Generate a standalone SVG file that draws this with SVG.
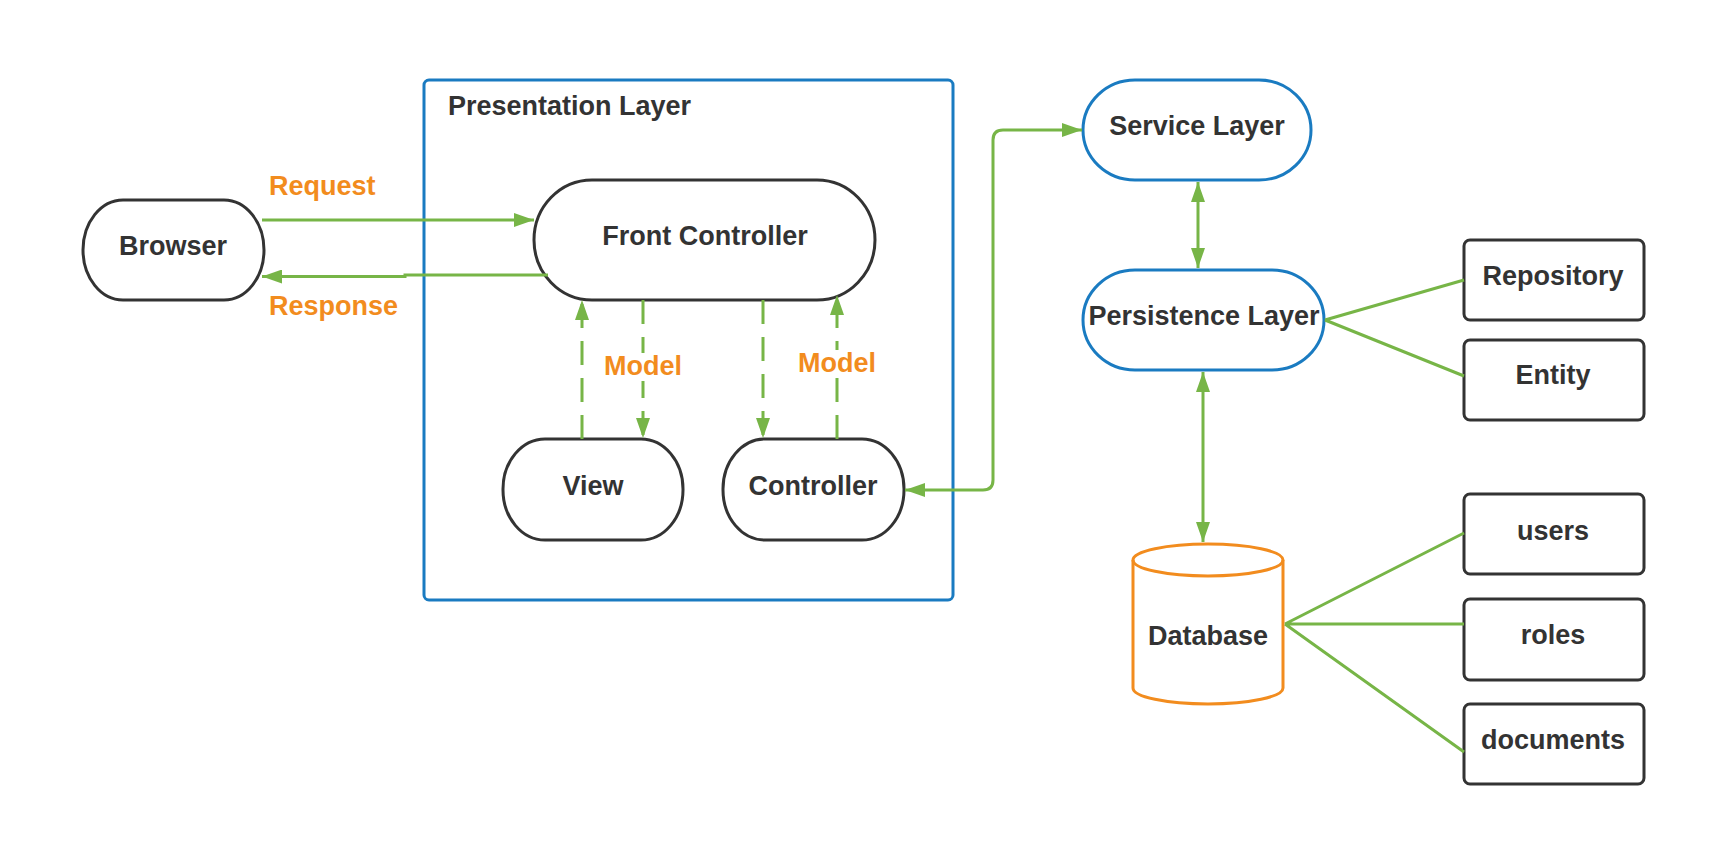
<svg xmlns="http://www.w3.org/2000/svg" width="1714" height="868" viewBox="0 0 1714 868">
<style>
.t{font-family:"Liberation Sans",Arial,sans-serif;font-weight:bold;font-size:27px;fill:#333333;text-anchor:middle}
.lbl{font-family:"Liberation Sans",Arial,sans-serif;font-weight:bold;font-size:27px;fill:#f28c1e}
.nd{fill:#ffffff;stroke:#333333;stroke-width:3}
.bl{fill:#ffffff;stroke:#1a7bc1;stroke-width:3}
.cn{fill:none;stroke:#77b547;stroke-width:3}
.dash{stroke-dasharray:24 13}
</style>
<defs>
<marker id="ah" viewBox="0 0 20 14" refX="20" refY="7" markerWidth="20" markerHeight="14" orient="auto-start-reverse" markerUnits="userSpaceOnUse">
<path d="M0,0 L20,7 L0,14 z" fill="#77b547"/>
</marker>
</defs>
<rect width="1714" height="868" fill="#ffffff"/>

<g id="presentation-layer">
<rect x="424" y="80" width="529" height="520" rx="5" ry="5" fill="#ffffff" stroke="#1a7bc1" stroke-width="3"/>
<text x="448" y="115" class="t" style="text-anchor:start">Presentation Layer</text>
</g>

<g id="browser">
<rect x="83" y="200" width="181" height="100" rx="40" ry="50" class="nd"/>
<text x="173" y="255" class="t">Browser</text>
</g>

<g id="front-controller">
<rect x="534" y="180" width="341" height="120" rx="58" ry="60" class="nd"/>
<text x="705" y="245" class="t">Front Controller</text>
</g>

<g id="view">
<rect x="503" y="439" width="180" height="101" rx="42" ry="50" class="nd"/>
<text x="593" y="495" class="t">View</text>
</g>

<g id="controller">
<rect x="723" y="439" width="181" height="101" rx="42" ry="50" class="nd"/>
<text x="813" y="495" class="t">Controller</text>
</g>

<g id="service-layer">
<rect x="1083" y="80" width="228" height="100" rx="52" ry="50" class="bl"/>
<text x="1197" y="135" class="t">Service Layer</text>
</g>

<g id="persistence-layer">
<rect x="1083" y="270" width="241" height="100" rx="52" ry="50" class="bl"/>
<text x="1204" y="325" class="t">Persistence Layer</text>
</g>

<g id="repository">
<rect x="1464" y="240" width="180" height="80" rx="6" ry="6" class="nd"/>
<text x="1553" y="285" class="t">Repository</text>
</g>

<g id="entity">
<rect x="1464" y="340" width="180" height="80" rx="6" ry="6" class="nd"/>
<text x="1553" y="384" class="t">Entity</text>
</g>

<g id="database">
<path d="M1133,560 A75,16 0 0 1 1283,560 L1283,688 A75,16 0 0 1 1133,688 Z" fill="#ffffff" stroke="#f28c1e" stroke-width="3"/>
<path d="M1133,560 A75,16 0 0 0 1283,560" fill="none" stroke="#f28c1e" stroke-width="3"/>
<text x="1208" y="645" class="t">Database</text>
</g>

<g id="users">
<rect x="1464" y="494" width="180" height="80" rx="6" ry="6" class="nd"/>
<text x="1553" y="540" class="t">users</text>
</g>

<g id="roles">
<rect x="1464" y="599" width="180" height="81" rx="6" ry="6" class="nd"/>
<text x="1553" y="644" class="t">roles</text>
</g>

<g id="documents">
<rect x="1464" y="704" width="180" height="80" rx="6" ry="6" class="nd"/>
<text x="1553" y="749" class="t">documents</text>
</g>

<g id="connectors">
<path d="M262,220 L534,220" class="cn" marker-end="url(#ah)"/>
<path d="M548,275 L405,275 L405,276.5 L262,276.5" class="cn" marker-end="url(#ah)"/>
<path d="M582,439 L582,300" class="cn dash" marker-end="url(#ah)"/>
<path d="M643,300 L643,438" class="cn dash" marker-end="url(#ah)"/>
<path d="M763,300 L763,438" class="cn dash" marker-end="url(#ah)"/>
<path d="M837,439 L837,295" class="cn dash" marker-end="url(#ah)"/>
<path d="M905,490 L983,490 Q993,490 993,480 L993,140 Q993,130 1003,130 L1082,130" class="cn" marker-start="url(#ah)" marker-end="url(#ah)"/>
<path d="M1198,182 L1198,268" class="cn" marker-start="url(#ah)" marker-end="url(#ah)"/>
<path d="M1203,372 L1203,542" class="cn" marker-start="url(#ah)" marker-end="url(#ah)"/>
<path d="M1325,320 L1464,280 M1325,320 L1464,376" class="cn"/>
<path d="M1285,624 L1464,533 M1285,624 L1464,624 M1285,624 L1464,752" class="cn"/>
<text x="269" y="195" class="lbl">Request</text>
<text x="269" y="315" class="lbl">Response</text>
<rect x="603" y="353" width="81" height="28" fill="#ffffff"/>
<text x="643" y="375" class="lbl" style="text-anchor:middle">Model</text>
<rect x="796" y="350" width="81" height="28" fill="#ffffff"/>
<text x="837" y="372" class="lbl" style="text-anchor:middle">Model</text>
</g>
</svg>
